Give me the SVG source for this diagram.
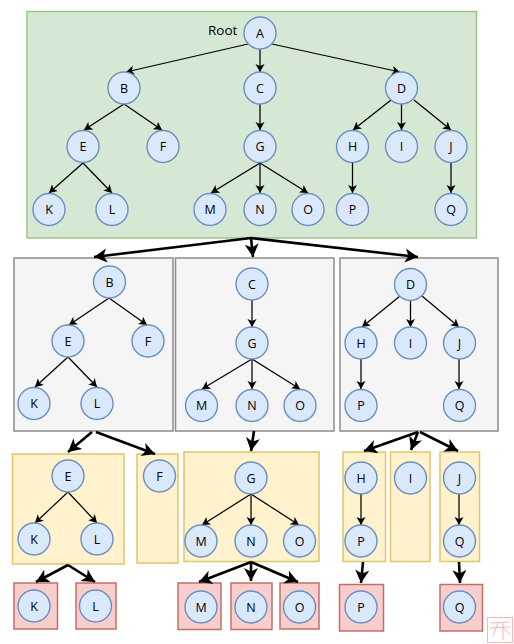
<svg xmlns="http://www.w3.org/2000/svg" width="514" height="644" viewBox="0 0 514 644">
<style>
.n circle{fill:#dae8fc;stroke:#6c8ebf;stroke-width:1.4}
.n text{font-family:"Open Sans","DejaVu Sans",sans-serif;font-size:12.5px;fill:#000;text-anchor:middle;dominant-baseline:central}
.lab{font-family:"Open Sans","DejaVu Sans",sans-serif;font-size:13.5px;fill:#000}
.g{fill:#d5e8d4;stroke:#9cbf85;stroke-width:1.4}
.w{fill:#f5f5f5;stroke:#8c8c8c;stroke-width:1.5}
.y{fill:#fff2cc;stroke:#e0c56e;stroke-width:1.5}
.r{fill:#f8cecc;stroke:#c26f6b;stroke-width:1.5}
.c{fill:none;stroke:#000;stroke-width:1.25;marker-end:url(#a)}
.t{fill:none;stroke:#000;stroke-width:2.6;marker-end:url(#b)}
.s{fill:none;stroke:#f4b6b6;stroke-width:1}
</style>
<defs>
<marker id="a" markerUnits="userSpaceOnUse" markerWidth="10" markerHeight="10" refX="8" refY="4.500" orient="auto" viewBox="0 0 10 9"><path d="M0 0L8 4.500L0 9L2 4.500Z"/></marker>
<marker id="b" markerUnits="userSpaceOnUse" markerWidth="15" markerHeight="15" refX="13" refY="7" orient="auto" viewBox="0 0 15 14"><path d="M0 0L13 7L0 14L3.500 7Z"/></marker>
</defs>
<g id="containers">
<rect class="g" x="27" y="11.500" width="449.500" height="226.500"/>
<rect class="w" x="14" y="258" width="159" height="173"/>
<rect class="w" x="175.500" y="258" width="158.500" height="173"/>
<rect class="w" x="340" y="258" width="158" height="173"/>
<rect class="y" x="12.500" y="454" width="111.500" height="110"/>
<rect class="y" x="137" y="454" width="41" height="109"/>
<rect class="y" x="184" y="452" width="135" height="109.500"/>
<rect class="y" x="343" y="452" width="42.500" height="109.500"/>
<rect class="y" x="390.500" y="452" width="39.500" height="109.500"/>
<rect class="y" x="440" y="452" width="39.500" height="109.500"/>
<rect class="r" x="14" y="583" width="43.500" height="46"/>
<rect class="r" x="76" y="583" width="40" height="46"/>
<rect class="r" x="178" y="583" width="43" height="46.500"/>
<rect class="r" x="231" y="583" width="41" height="46.500"/>
<rect class="r" x="280" y="583" width="39" height="46"/>
<rect class="r" x="339.500" y="584.500" width="44" height="46.500"/>
<rect class="r" x="440" y="584.500" width="42.500" height="46.500"/>
</g>
<g id="connectors">
<path class="c" d="M248 44L126 72"/><path class="c" d="M260 49V72"/><path class="c" d="M272 44L400 72"/>
<path class="c" d="M124 104L84 130"/><path class="c" d="M124 104L162 130"/><path class="c" d="M260 104V130"/>
<path class="c" d="M391 100L353 130"/><path class="c" d="M401.500 104V130"/><path class="c" d="M414 100L451 130"/>
<path class="c" d="M83 163L49 193"/><path class="c" d="M83 163L112 193"/>
<path class="c" d="M260 163L211 193"/><path class="c" d="M260 163V193"/><path class="c" d="M260 163L308 193"/>
<path class="c" d="M352.500 162V193"/><path class="c" d="M451 162V193"/>
<path class="c" d="M109 298L69 325"/><path class="c" d="M109 298L147 325"/><path class="c" d="M68 357L35 387"/><path class="c" d="M68 357L97 387"/>
<path class="c" d="M252 300V327"/><path class="c" d="M252 359L202 389"/><path class="c" d="M252 359V389"/><path class="c" d="M252 359L300 389"/>
<path class="c" d="M400 296L362 327"/><path class="c" d="M410.500 301V327"/><path class="c" d="M422 296L459 327"/><path class="c" d="M361 359V389"/><path class="c" d="M459 359V389"/>
<path class="c" d="M68 492L35 523"/><path class="c" d="M68 492L97 523"/>
<path class="c" d="M251 494L202 525"/><path class="c" d="M251 494V525"/><path class="c" d="M251 494L299 525"/>
<path class="c" d="M361 494V525"/><path class="c" d="M459 494V525"/>
<path class="t" d="M251 238L94 257"/><path class="t" d="M251 238L253 257"/><path class="t" d="M251 238L418 257"/>
<path class="t" d="M92 432L68 452"/><path class="t" d="M96 432L155 454"/><path class="t" d="M254 431L251 451"/>
<path class="t" d="M418 432L364 451"/><path class="t" d="M418 432L411 450"/><path class="t" d="M420 432L458 451"/>
<path class="t" d="M68 565L36 582"/><path class="t" d="M68 565L95 582"/>
<path class="t" d="M251 562L199 582"/><path class="t" d="M251 562V581"/><path class="t" d="M251 562L298 582"/>
<path class="t" d="M363 562L361 583"/><path class="t" d="M459 562L460 583"/>
</g>
<g id="seal"><rect class="s" x="487.500" y="617.500" width="25" height="25"/><path class="s" d="M491 623L509 622M490 628L510 627M498 623L493 636M503 623V640M503 628L510 634"/></g>
<text class="lab" x="208" y="35">Root</text>
<g id="n1" class="n"><circle cx="260" cy="33" r="16"/><text x="260" y="33">A</text></g>
<g id="n2" class="n"><circle cx="124" cy="88" r="16"/><text x="124" y="88">B</text></g>
<g id="n3" class="n"><circle cx="260" cy="88" r="16"/><text x="260" y="88">C</text></g>
<g id="n4" class="n"><circle cx="401.500" cy="88" r="16"/><text x="401.500" y="88">D</text></g>
<g id="n5" class="n"><circle cx="83" cy="146.500" r="16"/><text x="83" y="146.500">E</text></g>
<g id="n6" class="n"><circle cx="163" cy="146.500" r="16"/><text x="163" y="146.500">F</text></g>
<g id="n7" class="n"><circle cx="260" cy="146.500" r="16"/><text x="260" y="146.500">G</text></g>
<g id="n8" class="n"><circle cx="352.500" cy="146.500" r="16"/><text x="352.500" y="146.500">H</text></g>
<g id="n9" class="n"><circle cx="401.500" cy="146.500" r="16"/><text x="401.500" y="146.500">I</text></g>
<g id="n10" class="n"><circle cx="451" cy="146.500" r="16"/><text x="451" y="146.500">J</text></g>
<g id="n11" class="n"><circle cx="49" cy="209.500" r="16"/><text x="49" y="209.500">K</text></g>
<g id="n12" class="n"><circle cx="112" cy="209.500" r="16"/><text x="112" y="209.500">L</text></g>
<g id="n13" class="n"><circle cx="210" cy="209.500" r="16"/><text x="210" y="209.500">M</text></g>
<g id="n14" class="n"><circle cx="260" cy="209.500" r="16"/><text x="260" y="209.500">N</text></g>
<g id="n15" class="n"><circle cx="308" cy="209.500" r="16"/><text x="308" y="209.500">O</text></g>
<g id="n16" class="n"><circle cx="352.500" cy="209.500" r="16"/><text x="352.500" y="209.500">P</text></g>
<g id="n17" class="n"><circle cx="451" cy="209.500" r="16"/><text x="451" y="209.500">Q</text></g>
<g id="n18" class="n"><circle cx="109.500" cy="282" r="16"/><text x="109.500" y="282">B</text></g>
<g id="n19" class="n"><circle cx="68" cy="341" r="16"/><text x="68" y="341">E</text></g>
<g id="n20" class="n"><circle cx="148" cy="341" r="16"/><text x="148" y="341">F</text></g>
<g id="n21" class="n"><circle cx="34" cy="403.500" r="16"/><text x="34" y="403.500">K</text></g>
<g id="n22" class="n"><circle cx="97" cy="403.500" r="16"/><text x="97" y="403.500">L</text></g>
<g id="n23" class="n"><circle cx="252" cy="284" r="16"/><text x="252" y="284">C</text></g>
<g id="n24" class="n"><circle cx="252" cy="343" r="16"/><text x="252" y="343">G</text></g>
<g id="n25" class="n"><circle cx="201.500" cy="405.500" r="16"/><text x="201.500" y="405.500">M</text></g>
<g id="n26" class="n"><circle cx="252" cy="405.500" r="16"/><text x="252" y="405.500">N</text></g>
<g id="n27" class="n"><circle cx="300" cy="405.500" r="16"/><text x="300" y="405.500">O</text></g>
<g id="n28" class="n"><circle cx="410.500" cy="284.500" r="16"/><text x="410.500" y="284.500">D</text></g>
<g id="n29" class="n"><circle cx="361" cy="343" r="16"/><text x="361" y="343">H</text></g>
<g id="n30" class="n"><circle cx="410.500" cy="343" r="16"/><text x="410.500" y="343">I</text></g>
<g id="n31" class="n"><circle cx="459.500" cy="343" r="16"/><text x="459.500" y="343">J</text></g>
<g id="n32" class="n"><circle cx="361" cy="405.500" r="16"/><text x="361" y="405.500">P</text></g>
<g id="n33" class="n"><circle cx="459.500" cy="405.500" r="16"/><text x="459.500" y="405.500">Q</text></g>
<g id="n34" class="n"><circle cx="68" cy="476" r="16"/><text x="68" y="476">E</text></g>
<g id="n35" class="n"><circle cx="34" cy="539" r="16"/><text x="34" y="539">K</text></g>
<g id="n36" class="n"><circle cx="97" cy="539" r="16"/><text x="97" y="539">L</text></g>
<g id="n37" class="n"><circle cx="159.500" cy="476" r="16"/><text x="159.500" y="476">F</text></g>
<g id="n38" class="n"><circle cx="251" cy="478" r="16"/><text x="251" y="478">G</text></g>
<g id="n39" class="n"><circle cx="201" cy="541" r="16"/><text x="201" y="541">M</text></g>
<g id="n40" class="n"><circle cx="251" cy="541" r="16"/><text x="251" y="541">N</text></g>
<g id="n41" class="n"><circle cx="299.500" cy="541" r="16"/><text x="299.500" y="541">O</text></g>
<g id="n42" class="n"><circle cx="361" cy="478" r="16"/><text x="361" y="478">H</text></g>
<g id="n43" class="n"><circle cx="361" cy="541" r="16"/><text x="361" y="541">P</text></g>
<g id="n44" class="n"><circle cx="410.500" cy="478" r="16"/><text x="410.500" y="478">I</text></g>
<g id="n45" class="n"><circle cx="459.500" cy="478" r="16"/><text x="459.500" y="478">J</text></g>
<g id="n46" class="n"><circle cx="459.500" cy="541" r="16"/><text x="459.500" y="541">Q</text></g>
<g id="n47" class="n"><circle cx="34" cy="606" r="16"/><text x="34" y="606">K</text></g>
<g id="n48" class="n"><circle cx="95.500" cy="606" r="16"/><text x="95.500" y="606">L</text></g>
<g id="n49" class="n"><circle cx="201" cy="607" r="16"/><text x="201" y="607">M</text></g>
<g id="n50" class="n"><circle cx="251" cy="607" r="16"/><text x="251" y="607">N</text></g>
<g id="n51" class="n"><circle cx="299.500" cy="607" r="16"/><text x="299.500" y="607">O</text></g>
<g id="n52" class="n"><circle cx="361" cy="607" r="16"/><text x="361" y="607">P</text></g>
<g id="n53" class="n"><circle cx="459.500" cy="607" r="16"/><text x="459.500" y="607">Q</text></g>
</svg>
